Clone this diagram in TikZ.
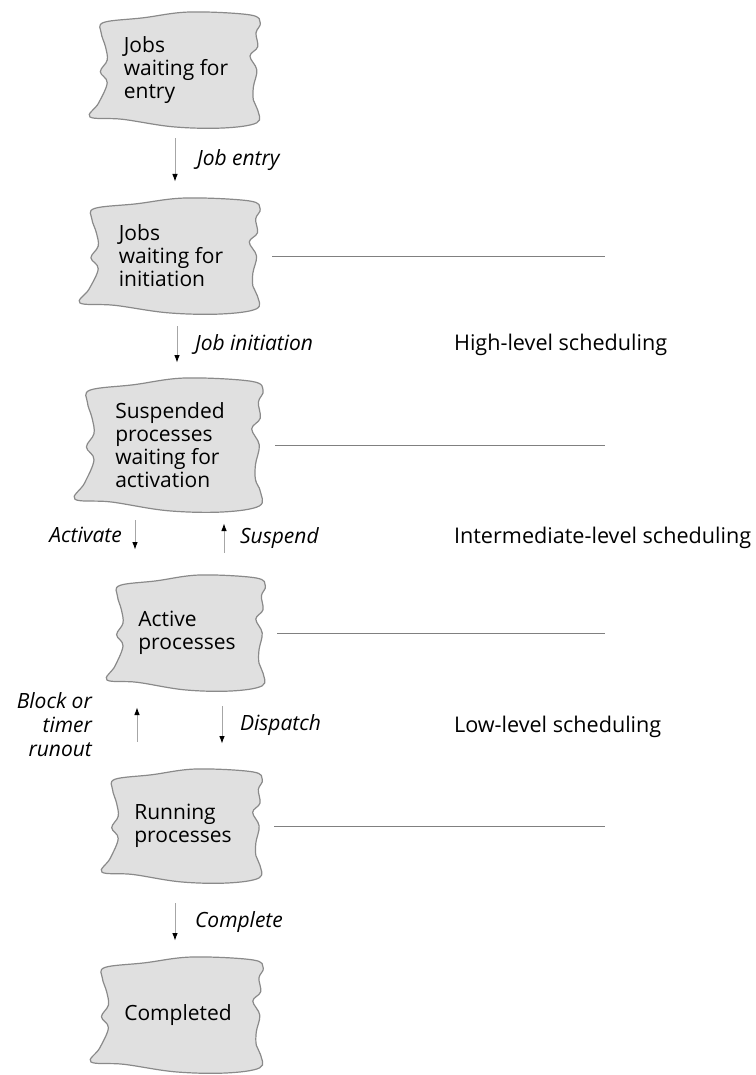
\documentclass[tikz,border=0pt]{standalone}
\usepackage{fontspec}
\setmainfont{Open Sans}
\usetikzlibrary{arrows.meta,calc,positioning}
\definecolor{cloudgray}{HTML}{E0E0E0}
\definecolor{cloudedge}{HTML}{8A8A8A}

\begin{document}
\begin{tikzpicture}[
          x=0.5pt, y=-0.5pt,
          every node/.style={font=\fontsize{10.5}{11.5}\selectfont},
          pool/.style={align=left, inner sep=0pt},
          cloud/.pic={\filldraw[fill=cloudgray, draw=cloudedge, line width=0.6pt]
            plot[smooth cycle, tension=0.6] coordinates {
              (-0.84,-0.82) (-0.38,-0.9) (0.16,-1.0) (0.86,-0.95) (0.98,-0.81)
              (0.93,-0.64) (0.95,-0.4) (0.86,-0.24) (0.94,0) (0.9,0.29)
              (0.9,0.52) (0.95,0.69) (0.94,0.91) (0.55,1.0) (-0.03,0.98)
              (-0.62,0.85) (-1.0,0.81) (-0.9,0.57) (-0.8,0.22) (-0.88,0.03)
              (-0.8,-0.17) (-0.82,-0.4) (-0.87,-0.64)};},
          move/.style={draw=black!35, line width=0.45pt, -{Latex[length=3.8pt,width=2.8pt,color=black]}},
          lbl/.style={font=\fontsize{10.5}{12}\selectfont\itshape},
          level/.style={anchor=west, font=\fontsize{10.8}{12}\selectfont},
          divider/.style={draw=black!50, line width=0.45pt}
      ]
        \useasboundingbox (0,0) rectangle (755,1075);

        \pic[xscale=86, yscale=58] at (176,70) {cloud};
        \pic[xscale=91, yscale=58] at (171,256) {cloud};
        \pic[xscale=95, yscale=67] at (170,445) {cloud};
        \pic[xscale=80, yscale=58] at (187,633) {cloud};
        \pic[xscale=81, yscale=57] at (183,826) {cloud};
        \pic[xscale=87, yscale=58] at (178,1015) {cloud};

        \node[pool, minimum width=86pt, minimum height=58pt] (entry) at (176,70) {Jobs\\waiting for\\entry};
        \node[pool, minimum width=91pt, minimum height=58pt] (init) at (171,256) {Jobs\\waiting for\\initiation};
        \node[pool, minimum width=95pt, minimum height=67pt] (susp) at (170,445) {Suspended\\processes\\waiting for\\activation};
        \node[pool, minimum width=80pt, minimum height=58pt] (active) at (187,633) {Active\\processes};
        \node[pool, minimum width=81pt, minimum height=57pt] (run) at (183,826) {Running\\processes};
        \node[pool, minimum width=87pt, minimum height=58pt] (done) at (178,1015) {Completed};

        % transitions
        \draw[move] ($(entry.south)+(-1,10)$) -- node[lbl, right=7.5pt] (jentry) {Job entry} ($(init.north)+(4,-16)$);
        \draw[move] ($(init.south)+(6,12)$) -- node[lbl, right=5.5pt] (jinit) {Job initiation} ($(susp.north)+(7,-15)$);
        \draw[move] ($(susp.south)+(-35,8)$) -- node[lbl, left=3pt] (activ) {Activate} ($(active.north)+(-52,-25)$);
        \draw[move] ($(active.north)+(37,-22)$) -- node[lbl, right=4.5pt] (suspd) {Suspend} ($(susp.south)+(54,11)$);
        \draw[move] ($(run.north)+(-46,-27)$) -- node[lbl, left=19pt, align=right] (block) {Block or\\timer\\runout} ($(active.south)+(-50,16)$);
        \draw[move] ($(active.south)+(35,15)$) -- node[lbl, right=5.5pt] (disp) {Dispatch} ($(run.north)+(39,-25)$);
        \draw[move] ($(run.south)+(-8,20)$) -- node[lbl, right=6.5pt] (compl) {Complete} ($(done.north)+(-3,-16)$);

        % scheduling levels
        \coordinate (rim) at (605,0);
        \draw[divider] ([xshift=5pt]init.east) -- (init.east -| rim);
        \draw[divider] ([xshift=5pt]susp.east) -- (susp.east -| rim);
        \draw[divider] ([xshift=5pt]active.east) -- (active.east -| rim);
        \draw[divider] ([xshift=5pt]run.east) -- (run.east -| rim);

        \node[level] (high) at (447,345) {High-level scheduling};
        \node[level] (mid) at (447,538) {Intermediate-level scheduling};
        \node[level] (low) at (447,727) {Low-level scheduling};
      \end{tikzpicture}
\end{document}
